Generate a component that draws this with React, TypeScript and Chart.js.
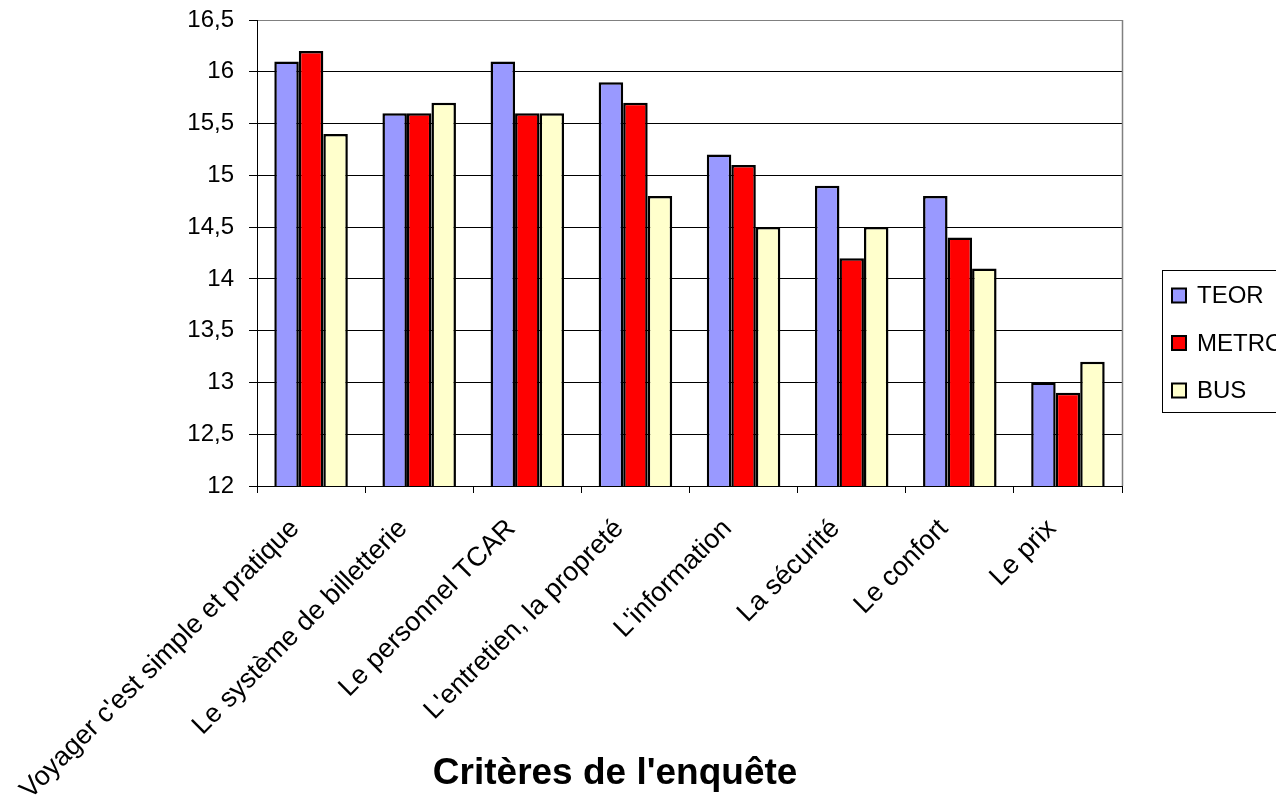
import React, { useEffect, useRef } from "react";
import { Chart, registerables } from "chart.js";

Chart.register(...registerables);

const categories = [
  "Voyager c'est simple et pratique",
  "Le système de billetterie",
  "Le personnel TCAR",
  "L'entretien, la propreté",
  "L'information",
  "La sécurité",
  "Le confort",
  "Le prix",
];
const seriesNames = ["TEOR", "METRO", "BUS"];
const teorValues = [16.1, 15.6, 16.1, 15.9, 15.2, 14.9, 14.8, 13.0];
const metroValues = [16.2, 15.6, 15.6, 15.7, 15.1, 14.2, 14.4, 12.9];
const busValues = [15.4, 15.7, 15.6, 14.8, 14.5, 14.5, 14.1, 13.2];
const seriesColors = ["#9999FF", "#FF0000", "#FFFFCC"];
const yMin = 12;
const yMax = 16.5;
const yStep = 0.5;
const xTitle = "Critères de l'enquête";

const FONT = "'Liberation Sans', Arial, sans-serif";

const decorPlugin = {
  id: "decor",
  afterDraw(chart: any) {
    const ctx = chart.ctx;
    const area = chart.chartArea;
    ctx.save();
    // right border of the plot area
    ctx.strokeStyle = "#808080";
    ctx.lineWidth = 1.5;
    ctx.beginPath();
    ctx.moveTo(area.right + 0.5, area.top);
    ctx.lineTo(area.right + 0.5, area.bottom);
    ctx.stroke();

    // x-axis title
    ctx.fillStyle = "#000";
    ctx.font = `bold 37px ${FONT}`;
    ctx.textAlign = "center";
    ctx.textBaseline = "middle";
    ctx.fillText(xTitle, area.left + area.width * 0.414, 774);

    // legend
    const bx = area.right + 40;
    const by = 270.5;
    ctx.strokeStyle = "#000";
    ctx.lineWidth = 1;
    ctx.strokeRect(bx + 0.5, by, 300, 142);
    ctx.font = `24px ${FONT}`;
    ctx.textAlign = "left";
    chart.data.datasets.forEach((ds: any, i: number) => {
      const cy = by + 25 + i * 47.5;
      ctx.fillStyle = ds.backgroundColor;
      ctx.fillRect(bx + 10, cy - 7, 14, 14);
      ctx.lineWidth = 2;
      ctx.strokeRect(bx + 10, cy - 7, 14, 14);
      ctx.fillStyle = "#000";
      ctx.fillText(ds.label, bx + 35, cy + 1);
    });
    ctx.restore();
  },
};

export default function App() {
  const ref = useRef<HTMLCanvasElement | null>(null);

  useEffect(() => {
    if (!ref.current) return;
    Chart.defaults.font.family = FONT;
    const values = [teorValues, metroValues, busValues];
    const chart = new Chart(ref.current, {
      type: "bar",
      data: {
        labels: categories,
        datasets: seriesNames.map((name, i) => ({
          label: name,
          data: values[i],
          backgroundColor: seriesColors[i],
          borderColor: "#000",
          borderWidth: 2.5,
          borderSkipped: false,
          categoryPercentage: 0.68,
          barPercentage: 1,
        })),
      },
      options: {
        responsive: false,
        animation: false,
        layout: { padding: { top: 20, right: 154, left: 0, bottom: 0 } },
        plugins: { legend: { display: false }, tooltip: { enabled: false } },
        scales: {
          x: {
            grid: {
              offset: true,
              drawOnChartArea: false,
              drawTicks: true,
              tickLength: 7,
              tickColor: "#000",
              color: "#000",
            },
            border: { color: "#000", width: 1 },
            ticks: {
              autoSkip: false,
              minRotation: 45,
              maxRotation: 45,
              color: "#000",
              font: { size: 27 },
              padding: 20,
              labelOffset: -16,
            },
            afterFit: (scale: any) => {
              scale.height = 312;
              scale.paddingLeft = 0;
              scale.paddingRight = 0;
            },
          },
          y: {
            min: yMin,
            max: yMax,
            grid: {
              color: (c: any) => (c.tick && c.tick.value === yMax ? "#808080" : "#000"),
              lineWidth: 1,
              tickLength: 8,
              tickColor: "#000",
            },
            border: { color: "#000", width: 1 },
            ticks: {
              stepSize: yStep,
              color: "#000",
              font: { size: 24 },
              padding: 15,
              callback: (v: any) => String(v).replace(".", ","),
            },
            afterFit: (scale: any) => {
              scale.width = 257;
              scale.paddingTop = 0;
              scale.paddingBottom = 0;
            },
          },
        },
      },
      plugins: [decorPlugin],
    });
    return () => chart.destroy();
  }, []);

  return (
    <div style={{ position: "fixed", left: 0, top: 0, width: 1276, height: 798, background: "#fff" }}>
      <canvas ref={ref} width={1276} height={798} style={{ width: 1276, height: 798 }} />
    </div>
  );
}
